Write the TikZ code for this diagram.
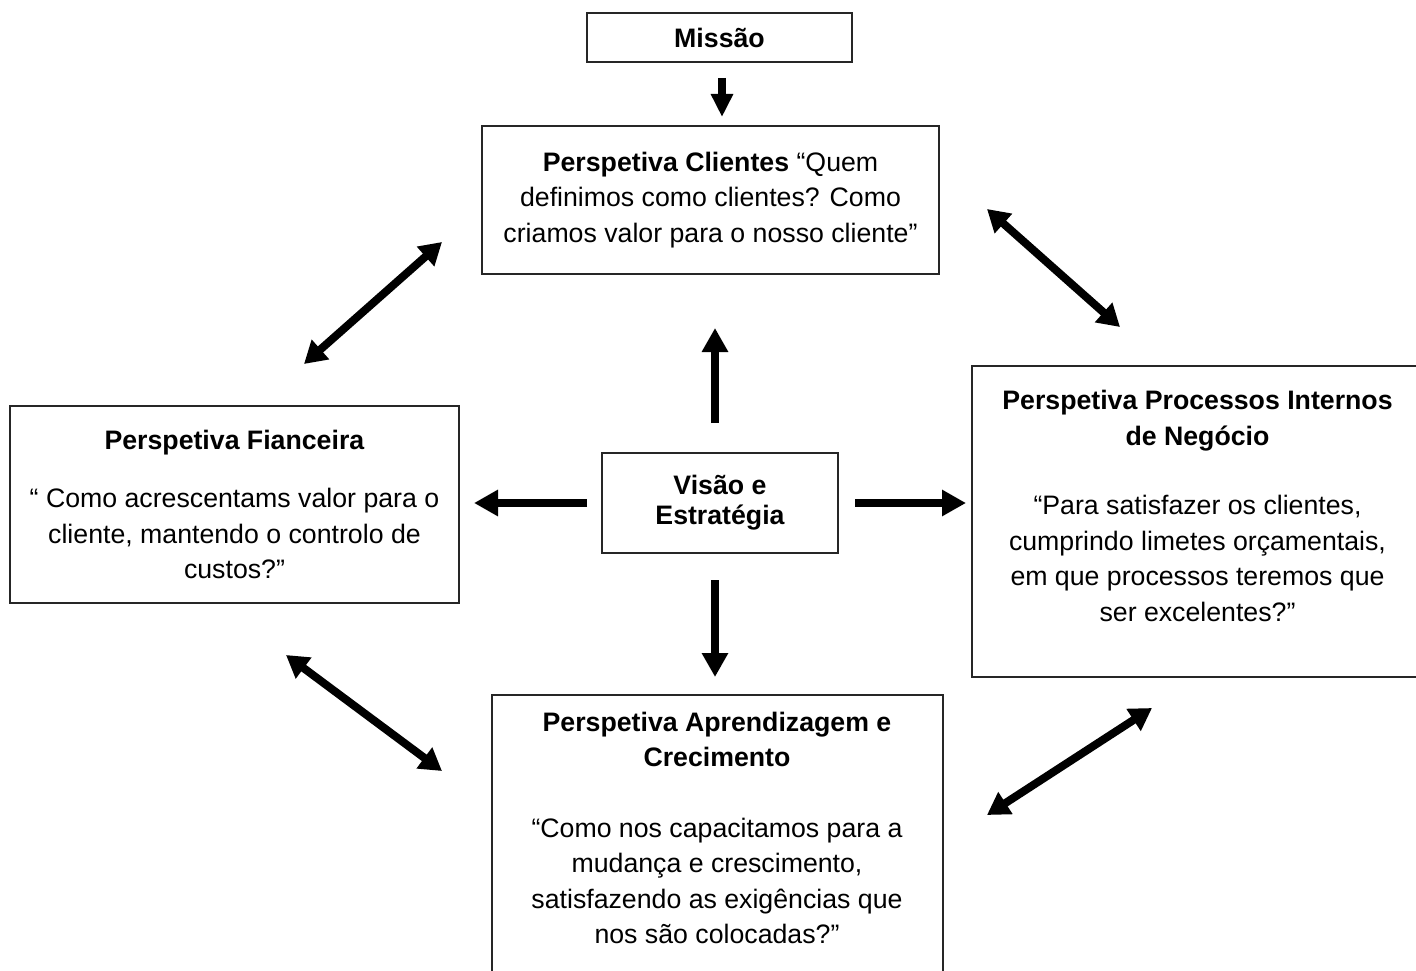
\documentclass[tikz,border=0pt]{standalone}
\usepackage{fontspec}
\setmainfont{Liberation Sans}
\usetikzlibrary{arrows.meta}

\begin{document}
\begin{tikzpicture}[x=1pt, y=-1pt,
  txt/.style={font=\fontsize{26.7}{35.5}\selectfont, align=center, inner sep=0pt},
  box/.style={draw=black!85, line width=1.4pt, txt},
  bigarrow/.style={line width=8pt, -{Triangle[length=24pt,width=25pt]}},
  dblarrow/.style={line width=8pt, {Triangle[length=22pt,width=25pt]}-{Triangle[length=22pt,width=25pt]}}
]
\useasboundingbox (0,0) rectangle (1416,971);
\clip (0,0) rectangle (1416,971);
\fill[white] (0,0) rectangle (1416,971);

% boxes
\node[box, minimum width=265pt, minimum height=49pt] (missao) at (719.5,37.5) {\bfseries Missão};

\node[box, minimum width=457pt, minimum height=148pt] (clientes) at (710.5,200)
  {\textbf{Perspetiva Clientes} “Quem\\definimos como clientes? Como\\criamos valor para o nosso cliente”};

\node[box, minimum width=449pt, minimum height=197pt] (financeira) at (234.5,504.5)
  {\textbf{Perspetiva Fianceira}\\[22.5pt]“ Como acrescentams valor para o\\cliente, mantendo o controlo de\\custos?”};

\node[box, minimum width=236pt, minimum height=100pt,
      font=\fontsize{26.7}{30}\selectfont\bfseries] (visao) at (720,503)
  {Visão e\\Estratégia};

\node[box, minimum width=451pt, minimum height=311pt] (processos) at (1197.5,521.5) {};
\node[txt] (processostxt) at (1197.5,506)
  {\textbf{Perspetiva Processos Internos}\\\textbf{de Negócio}\\[34pt]“Para satisfazer os clientes,\\cumprindo limetes orçamentais,\\em que processos teremos que\\ser excelentes?”};

\node[box, minimum width=451pt, minimum height=311pt] (aprendizagem) at (717.5,850.5) {};
\node[txt] (aprendizagemtxt) at (717,828)
  {\textbf{Perspetiva Aprendizagem e}\\\textbf{Crecimento}\\[35pt]“Como nos capacitamos para a\\mudança e crescimento,\\satisfazendo as exigências que\\nos são colocadas?”};

% arrow end points
\coordinate (m1) at (722,78);   \coordinate (m2) at (722,117);
\coordinate (u1) at (715,423);  \coordinate (u2) at (715,328);
\coordinate (d1) at (715,580);  \coordinate (d2) at (715,677);
\coordinate (l1) at (587,503);  \coordinate (l2) at (474,503);
\coordinate (r1) at (855,503);  \coordinate (r2) at (966,503);
\coordinate (tl1) at (304,364); \coordinate (tl2) at (442,242);
\coordinate (tr1) at (987,209); \coordinate (tr2) at (1120,327);
\coordinate (bl1) at (286,655); \coordinate (bl2) at (442,771);
\coordinate (br1) at (987,815); \coordinate (br2) at (1152,708);

% arrows
\draw[line width=8pt, -{Triangle[length=23pt,width=21pt]}] (m1) -- (m2);
\draw[bigarrow] (u1) -- (u2);
\draw[bigarrow] (d1) -- (d2);
\draw[bigarrow] (l1) -- (l2);
\draw[bigarrow] (r1) -- (r2);
\draw[dblarrow] (tl1) -- (tl2);
\draw[dblarrow] (tr1) -- (tr2);
\draw[dblarrow] (bl1) -- (bl2);
\draw[dblarrow] (br1) -- (br2);
\end{tikzpicture}
\end{document}
